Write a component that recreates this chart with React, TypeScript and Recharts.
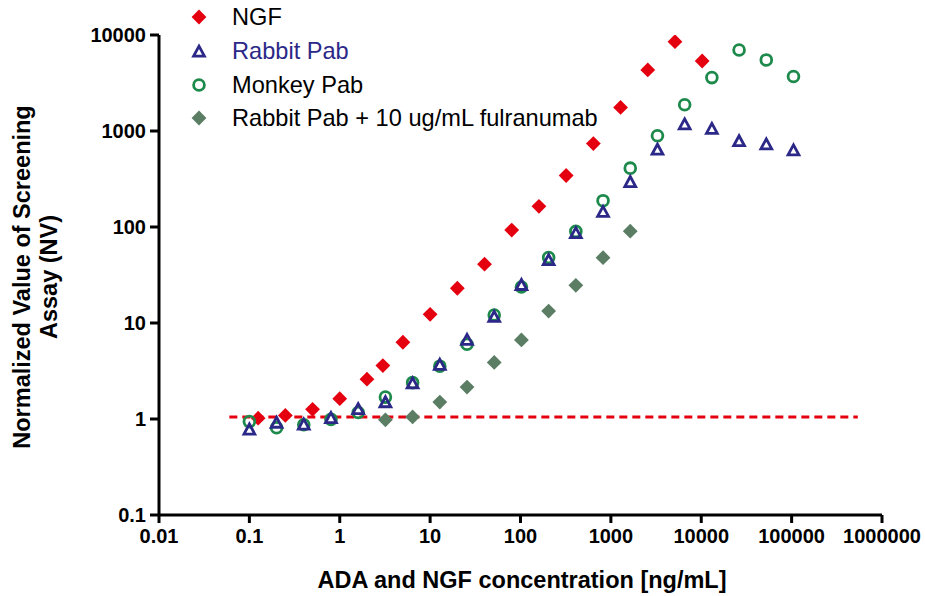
import React from "react";
import {
  ScatterChart, Scatter, XAxis, YAxis, ReferenceLine, Label,
} from "recharts";

// NGF standard curve
const ngfConc = [0.125, 0.25, 0.5, 1, 2, 3, 5, 10, 20, 40, 80, 160, 320, 640, 1280, 2560, 5120, 10240];
const ngfNV = [1.02, 1.09, 1.26, 1.63, 2.6, 3.6, 6.3, 12.3, 23, 41, 93, 164, 344, 740, 1760, 4330, 8520, 5360];

// ADA dilution series (Rabbit / Monkey Pab)
const pabConc = [
  0.1, 0.2, 0.4, 0.8, 1.6, 3.2, 6.4, 12.8, 25.6, 51.2, 102.4, 204.8, 409.6,
  819.2, 1638.4, 3276.8, 6553.6, 13107.2, 26214.4, 52428.8, 104857.6,
];
const rabbitNV = [
  0.79, 0.93, 0.89, 1.04, 1.29, 1.52, 2.39, 3.73, 6.78, 11.8, 25.3, 46, 87.7,
  146, 299, 649, 1190, 1070, 796, 737, 638,
];
const monkeyNV = [
  0.94, 0.81, 0.87, 0.99, 1.17, 1.69, 2.39, 3.55, 6.0, 12.1, 23.7, 48, 90,
  188, 410, 893, 1875, 3600, 6980, 5500, 3690,
];

// Rabbit Pab + 10 ug/mL fulranumab
const blockedConc = [3.2, 6.4, 12.8, 25.6, 51.2, 102.4, 204.8, 409.6, 819.2, 1638.4];
const blockedNV = [0.98, 1.05, 1.5, 2.15, 3.88, 6.67, 13.3, 24.7, 47.9, 90.4];

const xTicks = [0.01, 0.1, 1, 10, 100, 1000, 10000, 100000, 1000000];
const yTicks = [0.1, 1, 10, 100, 1000, 10000];
const cutoff = 1.05;

const RED = "#e5000f";
const NAVY = "#2b2888";
const GREEN = "#1d8a4c";
const SAGE = "#5a7d64";
const FONT = "'Liberation Sans', Arial, sans-serif";

const toPoints = (xs: number[], ys: number[]) => xs.map((x, i) => ({ x, y: ys[i] }));

const ngfData = toPoints(ngfConc, ngfNV);
const rabbitData = toPoints(pabConc, rabbitNV);
const monkeyData = toPoints(pabConc, monkeyNV);
const blockedData = toPoints(blockedConc, blockedNV);

function diamond(color: string) {
  return (p: any) => {
    const { cx, cy } = p;
    const r = 7.4;
    return <path d={`M${cx},${cy - r}L${cx + r},${cy}L${cx},${cy + r}L${cx - r},${cy}Z`} fill={color} />;
  };
}

function triangle(p: any) {
  const { cx, cy } = p;
  return (
    <path
      d={`M${cx},${cy - 4.8}L${cx + 5.4},${cy + 5.2}L${cx - 5.4},${cy + 5.2}Z`}
      fill="none" stroke={NAVY} strokeWidth={2.8} strokeLinejoin="miter"
    />
  );
}

function ring(p: any) {
  const { cx, cy } = p;
  return <circle cx={cx} cy={cy} r={5.4} fill="none" stroke={GREEN} strokeWidth={2.8} />;
}

const legendRows = [
  { label: "NGF", y: 17, color: "#000", kind: "ngf" },
  { label: "Rabbit Pab", y: 51, color: NAVY, kind: "rabbit" },
  { label: "Monkey Pab", y: 85, color: "#000", kind: "monkey" },
  { label: "Rabbit Pab + 10 ug/mL fulranumab", y: 118, color: "#000", kind: "blocked" },
];

function LegendBox() {
  return (
    <g>
      {legendRows.map((r) => {
        const cx = 199;
        let mark;
        if (r.kind === "ngf") mark = diamond(RED)({ cx, cy: r.y });
        else if (r.kind === "blocked") mark = diamond(SAGE)({ cx, cy: r.y });
        else if (r.kind === "rabbit") mark = triangle({ cx, cy: r.y });
        else mark = ring({ cx, cy: r.y });
        return (
          <g key={r.label}>
            {mark}
            <text x={232} y={r.y + 8.4} fontSize={23.6} fontFamily={FONT} fill={r.color}>
              {r.label}
            </text>
          </g>
        );
      })}
    </g>
  );
}

function YTitle() {
  return (
    <g fontFamily={FONT} fontWeight="bold" fontSize={23.5} fill="#000" textAnchor="middle">
      <text transform="translate(30,277) rotate(-90)">Normalized Value of Screening</text>
      <text transform="translate(57,277) rotate(-90)">Assay (NV)</text>
    </g>
  );
}

function XTitle() {
  return (
    <text x={522} y={588} fontFamily={FONT} fontWeight="bold" fontSize={23.5} fill="#000" textAnchor="middle">
      ADA and NGF concentration [ng/mL]
    </text>
  );
}

const tickStyle = { fill: "#000", fontSize: 20, fontWeight: "bold", fontFamily: FONT };
const axisLine = { stroke: "#000", strokeWidth: 3 };

export default function App() {
  return (
    <div style={{ position: "absolute", left: 0, top: 0, background: "#fff" }}>
      <ScatterChart width={925} height={596} margin={{ top: 35, right: 43, left: 0, bottom: 0 }}>
        <XAxis
          dataKey="x" type="number" scale="log" domain={[0.01, 1000000]} ticks={xTicks}
          interval={0} allowDataOverflow height={81} tickSize={8} tickMargin={6}
          axisLine={axisLine} tickLine={axisLine} tick={tickStyle}
        >
          <Label content={() => <XTitle />} />
        </XAxis>
        <YAxis
          dataKey="y" type="number" scale="log" domain={[0.1, 10000]} ticks={yTicks}
          interval={0} allowDataOverflow width={159} tickSize={9} tickMargin={4}
          axisLine={axisLine} tickLine={axisLine} tick={tickStyle}
        >
          <Label content={() => <YTitle />} />
          <Label content={() => <LegendBox />} />
        </YAxis>
        <ReferenceLine
          segment={[{ x: 0.06, y: cutoff }, { x: 540000, y: cutoff }]}
          stroke={RED} strokeWidth={3} strokeDasharray="8 5" ifOverflow="visible"
        />
        <Scatter name="NGF" data={ngfData} shape={diamond(RED)} isAnimationActive={false} />
        <Scatter name="Monkey Pab" data={monkeyData} shape={ring} isAnimationActive={false} />
        <Scatter name="Rabbit Pab" data={rabbitData} shape={triangle} isAnimationActive={false} />
        <Scatter name="Rabbit Pab + 10 ug/mL fulranumab" data={blockedData} shape={diamond(SAGE)} isAnimationActive={false} />
      </ScatterChart>
    </div>
  );
}
